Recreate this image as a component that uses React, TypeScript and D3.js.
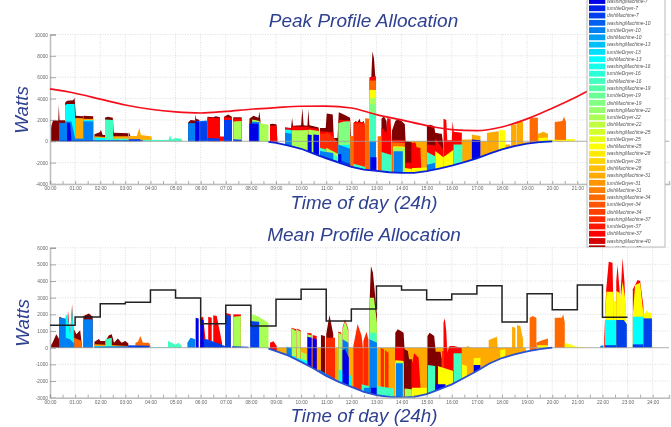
import React, { useEffect, useRef } from "react";
import * as d3 from "d3";

type P = [number, number];

const hourLabels = d3.range(0, 25).map((h) => `${String(h).padStart(2, "0")}:00`);
const halfHours = d3.range(0, 24.5, 0.5);
const peakYTicks = [10000, 8000, 6000, 4000, 2000, 0, -2000, -4000];
const meanYTicks = [6000, 5000, 4000, 3000, 2000, 1000, 0, -1000, -2000, -3000];

const legendSizes = [7, 10, 13, 16, 19, 22, 25, 28, 31, 34, 37, 40];
const legendAppliances = ["washingMachine", "tumbleDryer", "dishMachine"];

const peakLimit: P[] = [[0,4900],[1,4500],[2,3950],[3,3400],[4,3000],[5,2750],[6,2650],[7,2800],[8,3000],[9,3150],[10,3280],[11,3300],[12,3120],[13,2500],[14,2000],[15,1470],[16,1100],[17,1000],[18,1340],[19,2100],[20,3100],[21,4200],[22,5400]];
const meanLevels: P[] = [[0,1340],[1,1840],[2,2640],[3,2720],[4,3460],[5,2980],[6,1440],[7,2540],[8,1300],[9,2900],[10,3500],[11,1600],[12,2320],[13,3700],[14,3460],[15,2880],[16,3220],[17,3720],[18,1540],[19,3240],[20,2280],[21,3760],[22,1820],[23,1820]];

const peakBase: P[] = [[0,0],[8.3,0],[8.7,-60],[9,-150],[9.5,-400],[10,-700],[10.5,-1150],[11,-1600],[11.5,-2000],[12,-2400],[12.5,-2650],[13,-2780],[13.5,-2900],[14,-2950],[14.5,-2950],[15,-2800],[15.5,-2550],[16,-2280],[16.5,-1950],[17,-1600],[17.5,-1150],[18,-750],[18.5,-450],[19,-220],[19.5,-70],[20,0],[24,0]];
const meanBase: P[] = [[0,0],[8.3,0],[8.7,-50],[9,-200],[9.5,-480],[10,-850],[10.5,-1250],[11,-1700],[11.5,-2050],[12,-2350],[12.5,-2650],[13,-2850],[13.5,-2950],[14,-2990],[14.5,-2950],[15,-2780],[15.5,-2500],[16,-2200],[16.5,-1800],[17,-1400],[17.5,-950],[18,-620],[18.5,-400],[19,-220],[19.5,-80],[20,0],[24,0]];

const peakAmberBack: P[][] = [
  [[14.16,0],[15.4,0]],
  [[15.8,0],[16.8,0]],
];
const peakDarkRed: P[][] = [
  [[0,100],[0.05,1400],[0.12,1950],[0.33,1950],[0.35,3430],[0.38,1980],[0.6,1980]],
  [[0.6,3600],[0.68,3800],[0.92,3850],[0.98,4060],[1.03,2400],[1.33,2340]],
  [[1.33,2400],[1.72,2340]],
  [[1.77,650],[1.98,850],[2.03,1050],[2.1,600],[2.19,600]],
  [[2.19,2200],[2.3,2300],[2.5,2200],[2.54,800],[3.12,750]],
  [[3.14,880],[3.2,500]],
  [[5.5,1750],[5.6,2000],[5.78,1950]],
  [[5.78,2500],[5.82,2100],[5.95,2000]],
  [[6.27,2300],[6.5,2250],[6.6,2350],[6.77,2250]],
  [[6.93,2300],[7.1,2500],[7.24,2300]],
  [[7.3,2250],[7.63,2250]],
  [[7.94,2100],[8.1,2400],[8.3,2200],[8.34,2800],[8.38,1900]],
  [[8.76,1600],[8.85,1650],[9.02,1600],[9.05,300]],
  [[9.36,1300],[9.6,1250],[9.64,2190],[9.68,1450],[10,1500],[10.05,3120],[10.1,1500],[10.25,1450],[10.29,2970],[10.33,1500],[10.7,1300]],
  [[10.75,1250],[10.98,1250],[11.02,2600],[11.26,2500],[11.3,300],[11.45,300],[11.5,2720],[11.7,2500],[11.95,2200],[11.98,400],[12.08,400]],
  [[12.15,1900],[12.25,1800],[12.33,2100],[12.38,1700],[12.5,1900],[12.55,1300]],
  [[12.78,5200],[12.84,8400],[12.9,7800],[12.98,5200]],
  [[13.2,2100],[13.3,2340],[13.4,1900],[13.43,900]],
  [[13.62,1000],[13.75,1900],[13.85,2030],[14,1900],[14.13,1600],[14.16,0],[14.41,-100]],
  [[15.01,1500],[15.15,1560],[15.3,1400],[15.34,800],[15.6,700],[15.66,-300]],
];
const peakRed: P[][] = [
  [[6.27,2200],[6.77,2150]],
  [[6.77,450],[6.93,450]],
  [[6.93,2250],[7.24,2200]],
  [[7.3,2150],[7.63,2150]],
  [[8.76,1450],[9.02,1450],[9.05,100]],
  [[9.36,1280],[9.62,1200]],
  [[9.62,1400],[10.3,1350]],
  [[10.3,1300],[10.7,1150]],
  [[10.75,950],[11.28,850]],
  [[11.5,2000],[11.95,1950]],
  [[12.1,1800],[12.5,1800]],
  [[12.72,6000],[12.98,6100]],
  [[13.2,1300],[13.4,800],[13.43,2190],[13.56,2100],[13.6,300]],
  [[13.62,150],[14.13,100],[14.16,-2000],[14.41,-2000]],
  [[14.41,-150],[14.55,-100],[14.6,-550],[14.75,-620],[14.78,-2400]],
  [[15.01,-300],[15.34,-400]],
  [[15.34,300],[15.66,-800]],
  [[15.67,2100],[15.78,2000],[15.82,100],[16,100],[16.03,1876],[16.08,900],[16.4,800]],
];
const peakOrangeRed: P[][] = [
  [[10.75,700],[11,700],[11.02,900],[11.28,400],[11.48,-200]],
  [[12.08,1700],[12.55,1650]],
];
const peakOrange: P[][] = [
  [[19.1,2200],[19.43,2200]],
  [[20.1,1800],[20.4,1900],[20.47,2300],[20.55,1800]],
  [[11.95,500],[12.08,500]],
  [[12.55,2150],[12.72,2100]],
  [[12.72,5700],[12.98,5700]],
  [[13.05,470],[13.2,470]],
  [[13.62,-100],[14.13,-150]],
];
const peakAmber: P[][] = [
  [[1.0,2190],[1.33,2150]],
  [[1.33,2100],[1.72,2100]],
  [[1.77,470],[2.19,400]],
  [[2.5,470],[3.12,470]],
  [[3.14,500],[3.45,500],[3.56,1250],[3.62,600],[4.05,450]],
  [[9.05,-90],[9.29,-300]],
  [[16.4,160],[16.6,170],[16.8,160]],
  [[16.8,630],[17,550],[17.14,500]],
  [[17.14,0],[17.4,0]],
  [[17.4,780],[17.87,940]],
  [[18.13,-310],[18.33,-310]],
  [[18.36,1560],[18.57,1560]],
  [[18.58,1800],[18.84,1800]],
  [[18.84,-100],[19.1,-100]],
  [[19.43,700],[19.65,900],[19.83,700]],
];
const peakYellow: P[][] = [
  [[12.72,4800],[12.98,4800]],
  [[13.66,-460],[14.13,-500]],
  [[14.13,-2500],[14.41,-2600]],
  [[14.41,-2500],[15.01,-2450]],
  [[15.34,-900],[15.66,-1500]],
  [[15.66,-1500],[16.07,-800]],
  [[17.9,1100],[18.13,1000]],
  [[19.45,300],[19.83,350]],
  [[19.83,150],[20.55,120]],
  [[20.55,220],[20.9,200]],
];
const peakLime: P[][] = [
  [[7.3,1850],[7.63,1900]],
  [[8.05,2050],[8.34,1900],[8.38,1700],[8.7,1550]],
  [[9.62,1030],[10.29,1050]],
  [[10.29,1100],[10.75,950]],
  [[11,-600],[11.48,-1200]],
  [[12.72,4000],[12.98,4100]],
  [[13.66,-560],[14.13,-600]],
];
const peakMint: P[][] = [
  [[11.48,1700],[11.7,1850],[11.95,1875]],
  [[12.72,3500],[12.98,3500]],
];
const peakTeal: P[][] = [
  [[2.19,2030],[2.52,2000]],
  [[2.52,250],[3.12,250]],
  [[3.7,150],[4.72,130],[4.78,550],[4.85,150],[5,300],[5.25,220]],
  [[10.75,-600],[11,-780]],
  [[11.05,-1000],[11.5,-1500]],
  [[12.08,-2100],[12.55,-2400]],
  [[12.72,2500],[12.98,2500]],
  [[13.2,-1000],[13.6,-1300]],
  [[15.01,-1000],[15.34,-1400]],
  [[16.07,-300],[16.42,-310]],
];
const peakCyan: P[][] = [
  [[0.6,3400],[0.68,3500],[0.98,3500],[1.02,400]],
  [[1.33,2000],[1.72,1980]],
  [[1.77,350],[2.19,300]],
  [[9.36,1100],[9.62,1050]],
  [[10.49,500],[10.7,450]],
  [[11.48,-400],[11.95,-300]],
];
const peakSky: P[][] = [
  [[0.36,1720],[0.6,1720]],
  [[0.6,1850],[0.85,1850],[1,300]],
  [[1,250],[1.33,250]],
  [[1.33,1880],[1.72,1850]],
  [[5.5,1700],[5.78,1700]],
  [[5.98,1900],[6.25,1950]],
  [[8.05,1850],[8.34,1800]],
  [[9.36,800],[9.62,700]],
  [[10.75,-900],[11.28,-1100]],
  [[11.48,-310],[11.95,-700]],
  [[12.72,0],[12.98,0]],
  [[13.68,-930],[14.05,-930]],
  [[15.01,-2200],[15.34,-2000]],
];
const peakBlue: P[][] = [
  [[0.3,100],[3.7,100]],
  [[3.15,200],[3.6,200]],
  [[5.78,1900],[5.95,1900]],
  [[5.98,1850],[6.25,1850]],
  [[6.27,300],[6.77,250]],
  [[6.93,2000],[7.24,2000]],
  [[7.3,180],[7.63,150]],
  [[10.75,-1300],[11.5,-1900]],
  [[11.48,-1700],[11.95,-2100]],
];
const peakNavy: P[][] = [
  [[0.68,1750],[0.8,1700],[0.85,300]],
  [[5.78,1850],[5.95,1800]],
  [[7.94,1650],[8.3,1650]],
  [[10.26,630],[10.42,600]],
  [[10.49,630],[10.71,600]],
  [[11.48,-1200],[11.6,-1200]],
  [[12.76,-1500],[13,-1500]],
  [[16.8,160],[17.14,100]],
];

const meanAmberBack: P[][] = [
  [[8.95,0],[18.95,0]],
];
const meanDarkRed: P[][] = [
  [[0,50],[0.1,300],[0.25,800],[0.37,500]],
  [[0.37,1850],[0.62,1700]],
  [[0.96,1100],[1.05,800],[1.2,1050],[1.26,300]],
  [[1.33,1900],[1.55,2050],[1.7,1850]],
  [[1.77,350],[1.95,520],[2,400],[2.2,400],[2.35,750],[2.46,800],[2.55,300],[2.7,550],[2.85,300],[3,400],[3.12,250]],
  [[10.79,760],[10.95,700]],
  [[11,800],[11.13,1960],[11.28,800]],
  [[12.72,2500],[12.78,4900],[12.86,4500],[13.02,2000]],
  [[13.75,900],[13.85,1100],[14.08,900],[14.12,-100],[14.25,-200],[14.3,-700],[14.41,-700]],
  [[15.03,700],[15.12,900],[15.3,700],[15.36,-240],[15.55,-240],[15.6,-700]],
];
const meanRed: P[][] = [
  [[0.62,400],[0.72,2200],[0.8,800],[0.88,2600],[0.96,500]],
  [[5.98,1800],[6.1,1850],[6.2,400]],
  [[6.3,1850],[6.44,1800]],
  [[6.5,1950],[6.64,1900],[6.85,300]],
  [[6.97,2100],[7.2,2000]],
  [[7.3,2000],[7.6,2000]],
  [[8.76,300],[8.9,380],[9.03,100]],
  [[9.62,1200],[9.8,1100]],
  [[9.82,1150],[9.98,1050]],
  [[10.25,900],[10.42,850]],
  [[10.46,760],[10.62,700]],
  [[11.48,960],[11.6,900]],
  [[11.65,1200],[11.75,1700],[11.88,1100]],
  [[13.75,100],[14.08,50]],
  [[14.41,-1000],[14.5,-340],[14.68,-600],[14.75,-2300]],
  [[15.62,-200],[15.67,-200]],
  [[15.67,1500],[15.72,1760],[15.78,1000],[15.82,-300],[15.91,100],[16.07,100],[16.4,0]],
  [[22.07,500],[22.15,3500],[22.25,5160],[22.4,5100],[22.44,2000]],
  [[22.55,4000],[22.6,4960],[22.68,3500],[22.7,2000]],
  [[22.73,3500],[22.8,5360],[22.88,3900],[22.92,1800]],
  [[23.21,3500],[23.4,4060],[23.5,4000],[23.63,2500]],
];
const meanOrangeRed: P[][] = [
  [[11,600],[11.35,600]],
  [[12.08,100],[12.25,1420],[12.41,700],[12.46,0]],
  [[12.48,400],[12.6,960],[12.68,500]],
  [[13.17,0],[13.3,-100]],
  [[13.34,-150],[13.48,-300]],
];
const meanOrange: P[][] = [
  [[19.1,1800],[19.22,1900],[19.37,1800]],
  [[20.1,1800],[20.38,1800],[20.44,2000],[20.5,1500]],
  [[0.96,600],[1.26,400]],
  [[3.4,300],[3.5,350],[3.6,700],[3.7,300],[3.95,300],[4,100]],
  [[19.37,300],[19.6,450],[19.83,550]],
];
const meanAmber: P[][] = [
  [[1.77,200],[3.12,100]],
  [[16.4,0],[16.6,50],[16.65,120],[16.72,0]],
  [[17.47,460],[17.8,660],[17.85,-500]],
  [[18.4,1260],[18.53,1200]],
  [[18.6,1360],[18.73,1300],[18.84,500]],
];
const meanYellow: P[][] = [
  [[22.1,1800],[22.16,3360],[22.44,3360]],
  [[22.44,2800],[22.55,2800]],
  [[22.55,3400],[22.68,3300],[22.73,3000]],
  [[22.73,3000],[22.8,3960],[22.9,3000],[22.95,1700]],
  [[23.21,2000],[23.3,3760],[23.5,3900],[23.63,2000]],
  [[23.63,1960],[23.78,2260],[23.83,2100],[23.96,2100]],
  [[13.75,-750],[14.08,-800]],
  [[14.41,-2400],[15,-2400]],
  [[15.45,-1100],[16.05,-1400]],
  [[16.4,-1000],[16.6,-1100]],
  [[16.87,-640],[17.14,-600]],
  [[17.93,-140],[18.13,-100]],
  [[19.4,150],[19.83,150]],
  [[20.5,300],[20.9,100]],
  [[20.9,50],[21.43,30]],
];
const meanLime: P[][] = [
  [[7.3,1850],[7.6,1900]],
  [[8.05,2000],[8.33,1850],[8.37,1800],[8.7,1500]],
  [[9.62,1160],[9.8,1000]],
  [[9.82,1100],[9.98,950]],
  [[10,-240],[10.22,-400]],
  [[10.25,800],[10.42,750]],
  [[11.48,900],[11.62,800]],
  [[11.65,1100],[11.75,1600],[11.88,1000]],
  [[12.72,3000],[12.9,3000],[13.02,1500]],
  [[13.75,-840],[14.08,-900]],
  [[14.12,-2450],[14.41,-2500]],
];
const meanTeal: P[][] = [
  [[2.2,500],[2.46,600]],
  [[2.46,80],[3.1,60]],
  [[4.7,400],[4.85,300],[5,180],[5.1,300],[5.25,100]],
  [[11,-1900],[11.4,-1950]],
  [[12.41,-2200],[12.7,-2300]],
  [[12.72,900],[13,900]],
  [[13.04,-2300],[13.7,-2450]],
  [[15.05,-1040],[15.34,-1100]],
  [[16.07,-340],[16.4,-340]],
];
const meanCyan: P[][] = [
  [[0.62,1900],[0.7,2000],[0.8,800],[0.88,2400],[0.96,400]],
  [[1.77,100],[3.1,40]],
  [[3.9,30],[4.7,30]],
  [[9.55,-500],[9.8,-500]],
  [[9.82,-600],[10.25,-800]],
  [[11.5,-1300],[12,-1700]],
  [[22.1,1660],[22.55,1660]],
  [[23.21,1860],[23.63,1860]],
];
const meanSky: P[][] = [
  [[0.37,1800],[0.62,1750]],
  [[0.62,600],[0.8,500],[0.96,250]],
  [[1.33,1700],[1.7,1700]],
  [[5.47,300],[5.6,600],[5.78,500]],
  [[9.42,60],[9.62,0]],
  [[10.7,-1300],[11.48,-2000]],
  [[11.65,500],[11.88,300]],
  [[12.5,-2400],[12.9,-2400]],
  [[12.72,500],[13.02,300]],
  [[13.78,-940],[14.05,-940]],
  [[21.91,100],[22.04,150]],
];
const meanBlue: P[][] = [
  [[1.77,50],[3.7,80]],
  [[3.12,150],[3.95,120]],
  [[6.1,500],[6.25,500],[6.97,100]],
  [[6.97,2000],[7.2,1900]],
  [[7.25,80],[7.9,60]],
  [[7.97,1600],[8.33,1550]],
  [[22.1,150],[22.55,150]],
  [[22.55,1660],[22.85,1660],[22.97,1400]],
  [[23.21,200],[23.63,200]],
  [[23.63,1760],[23.97,1760]],
];
const meanNavy: P[][] = [
  [[5.8,1800],[5.92,1750]],
  [[5.98,1750],[6.12,1650]],
  [[10.25,660],[10.42,600]],
  [[10.46,560],[10.62,500]],
  [[11.65,-150],[11.75,-100],[11.9,-600]],
  [[12.78,-2400],[13,-2400]],
  [[15.34,-2200],[15.75,-2200]],
  [[16.87,-1040],[17.14,-1040]],
];

// index of each drawn band in the legend order, back to front
const peakBands: [number, P[][]][] = [[24,peakAmberBack],[35,peakDarkRed],[32,peakRed],[30,peakOrangeRed],[27,peakOrange],[24,peakAmber],[20,peakYellow],[16,peakLime],[14,peakMint],[11,peakTeal],[8,peakCyan],[4,peakSky],[2,peakBlue],[0,peakNavy]];
const meanBands: [number, P[][]][] = [[24,meanAmberBack],[35,meanDarkRed],[32,meanRed],[30,meanOrangeRed],[27,meanOrange],[24,meanAmber],[20,meanYellow],[16,meanLime],[11,meanTeal],[8,meanCyan],[4,meanSky],[2,meanBlue],[0,meanNavy]];

const jet = d3.scaleLinear<string>().domain([0, 8, 20, 32, 35]).range(["#0000e6", "#00ffff", "#ffff00", "#ff0000", "#800000"]);
const TEXT_BLUE = "#2f4190";
const FONT = "'Liberation Sans', Arial, sans-serif";

function drawPlot(
  g: any,
  top: number,
  bottom: number,
  yDomain: [number, number],
  yTicks: number[],
  base: P[],
  bands: [number, P[][]][],
  baseEdge: string,
  lastHourLabel: number,
) {
  const x = d3.scaleLinear().domain([0, 24.65]).range([50, 669]);
  const y = d3.scaleLinear().domain(yDomain).range([bottom, top]);
  const baseAt = d3.scaleLinear().domain(base.map((d) => d[0])).range(base.map((d) => d[1]));
  const grid = g.append("g").attr("stroke", "#cfcfcf").attr("stroke-width", 0.7).attr("stroke-dasharray", "1 1.5");
  grid.selectAll("line.h").data(yTicks).join("line").attr("class", "h")
    .attr("x1", x(0)).attr("x2", x(24.65)).attr("y1", (d: number) => y(d)).attr("y2", (d: number) => y(d));
  grid.selectAll("line.v").data(d3.range(1, 25)).join("line").attr("class", "v")
    .attr("x1", (d: number) => x(d)).attr("x2", (d: number) => x(d)).attr("y1", top).attr("y2", bottom);

  const area = d3.area<P>()
    .x((d) => x(d[0]))
    .y0((d) => y(baseAt(d[0])))
    .y1((d) => y(Math.max(d[1], baseAt(d[0]))));
  bands.forEach(([k, polys]) => {
    g.append("g").attr("fill", jet(k)).selectAll("path").data(polys).join("path").attr("d", (d: P[]) => {
      // the lower edge follows the base curve, so it needs every knot inside the run
      const t0 = d[0][0], t1 = d[d.length - 1][0];
      const knots = base.map((b) => b[0]).filter((t) => t > t0 && t < t1 && !d.some((p) => p[0] === t));
      const topAt = d3.scaleLinear().domain(d.map((p) => p[0])).range(d.map((p) => p[1]));
      const all = [...d, ...knots.map((t) => [t, topAt(t)] as P)].sort((a, b) => a[0] - b[0]);
      return area(all) as string;
    });
  });

  const edge = d3.line<P>().x((d) => x(d[0])).y((d) => y(d[1]));
  g.append("line").attr("x1", x(0)).attr("x2", x(24.65)).attr("y1", y(0)).attr("y2", y(0)).attr("stroke", "#a0a0a0").attr("stroke-width", 0.8);
  g.append("path").attr("d", edge(base.filter((d) => d[0] >= 8.7 && d[0] <= 20)) as string).attr("fill", "none").attr("stroke", baseEdge).attr("stroke-width", 1.8);

  const yAxis = d3.axisLeft(y).tickValues(yTicks).tickSize(-6).tickPadding(2).tickFormat((d) => String(d));
  const ya = g.append("g").attr("transform", `translate(${x(0)},0)`).call(yAxis);
  const xAxis = d3.axisBottom(x).tickValues(halfHours).tickSize(-3).tickPadding(3)
    .tickFormat((d) => (Number(d) % 1 === 0 && Number(d) <= lastHourLabel ? hourLabels[Number(d)] : ""));
  const xa = g.append("g").attr("transform", `translate(0,${bottom})`).call(xAxis);
  [ya, xa].forEach((a: any) => {
    a.selectAll("text").attr("font-size", 4.8).attr("fill", "#666").attr("font-family", FONT);
    a.selectAll("line").attr("stroke", "#777").attr("stroke-width", 0.6);
    a.select(".domain").attr("stroke", "#bdbdbd").attr("stroke-width", 1.5);
  });
  return { x, y };
}

export default function App() {
  const ref = useRef<SVGSVGElement>(null);
  useEffect(() => {
    const svg = d3.select(ref.current as SVGSVGElement);
    svg.selectAll("*").remove();
    const defs = svg.append("defs");
    const filter = defs.append("filter").attr("id", "soft").attr("x", "0").attr("y", "0").attr("width", "100%").attr("height", "100%");
    filter.append("feGaussianBlur").attr("stdDeviation", 0.6);
    const root = svg.append("g").attr("filter", "url(#soft)") as any;
    root.append("rect").attr("width", 671).attr("height", 427).attr("fill", "#fff");

    const peak = drawPlot(root.append("g"), 34.5, 184, [-4000, 10000], peakYTicks, peakBase, peakBands, "#0a22d8", 21);
    root.append("path")
      .attr("d", d3.line<P>().x((d) => peak.x(d[0])).y((d) => peak.y(d[1])).curve(d3.curveMonotoneX)(peakLimit) as string)
      .attr("fill", "none").attr("stroke", "#f5101c").attr("stroke-width", 1.7);

    const mean = drawPlot(root.append("g"), 247.7, 397.7, [-3000, 6000], meanYTicks, meanBase, meanBands, "#2a4fd0", 24);
    root.append("path")
      .attr("d", d3.line<P>().x((d) => mean.x(d[0])).y((d) => mean.y(d[1])).curve(d3.curveStepAfter)(meanLevels) as string)
      .attr("fill", "none").attr("stroke", "#222").attr("stroke-width", 1.5);

    const big = (t: string, xp: number, yp: number, size: number, rot = false) =>
      root.append("text").text(t).attr("text-anchor", "middle").attr("font-style", "italic")
        .attr("font-family", FONT).attr("font-size", size).attr("fill", TEXT_BLUE)
        .attr("transform", rot ? `translate(${xp},${yp}) rotate(-90)` : `translate(${xp},${yp})`);
    big("Peak Profile Allocation", 363.5, 27, 19);
    big("Mean Profile Allocation", 364, 241, 19);
    big("Time of day (24h)", 364, 208.5, 18.8);
    big("Time of day (24h)", 364, 421.5, 18.8);
    big("Watts", 28, 110, 18.8, true);
    big("Watts", 29, 323, 18.8, true);

    const legendNames = legendSizes.flatMap((s) => legendAppliances.map((a) => `${a}-${s}`));
    const rowY = d3.scaleLinear().domain([0, 33]).range([1, 241]);
    const legend = root.append("g");
    legend.append("rect").attr("x", 587).attr("y", -2).attr("width", 78).attr("height", 249).attr("fill", "#fff").attr("stroke", "#aaa").attr("stroke-width", 0.8);
    const clip = defs.append("clipPath").attr("id", "legclip");
    clip.append("rect").attr("x", 587).attr("y", 0).attr("width", 78).attr("height", 247);
    const rows = legend.append("g").attr("clip-path", "url(#legclip)").selectAll("g").data(legendNames).join("g")
      .attr("transform", (_d: string, i: number) => `translate(0,${rowY(i)})`);
    rows.append("rect").attr("x", 589).attr("y", -2.9).attr("width", 16.3).attr("height", 5.8).attr("fill", (_d: string, i: number) => jet(i));
    rows.append("text").text((d: string) => d).attr("x", 607).attr("y", 1.7).attr("font-size", 4.9).attr("font-style", "italic")
      .attr("font-family", FONT).attr("fill", "#555");
  }, []);
  return (
    <svg ref={ref} width={671} height={427} viewBox="0 0 671 427"
      style={{ position: "fixed", left: 0, top: 0, display: "block", background: "#fff" }} />
  );
}
